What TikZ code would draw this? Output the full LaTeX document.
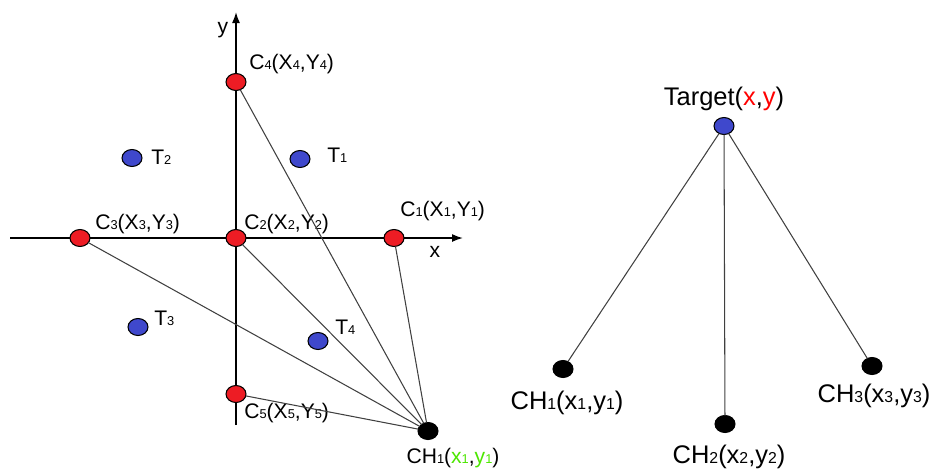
\documentclass[tikz,border=0pt]{standalone}
\usepackage{fontspec}
\setmainfont{Liberation Sans}
\usepackage{xcolor}
\definecolor{AnchorRed}{HTML}{ED1C24}
\definecolor{TargetBlue}{HTML}{3F48CC}
\definecolor{CoordGreen}{HTML}{4CE600}
\definecolor{CoordRed}{HTML}{FF0000}
\definecolor{LinkGray}{HTML}{404040}
\usepackage{tikz}
\usetikzlibrary{arrows.meta}
\usetikzlibrary{shapes.geometric}
\newcommand{\idx}[1]{{\fontsize{7.3}{8}\selectfont #1}}
\newcommand{\bigidx}[1]{{\fontsize{9}{10}\selectfont #1}}
\tikzset{
	dot/.style={ellipse,draw=black,line width=0.6pt,minimum width=0.4cm,minimum height=0.34cm,inner sep=0pt,outer sep=0pt},
	anchordot/.style={dot,fill=AnchorRed},
	targetdot/.style={dot,fill=TargetBlue},
	headdot/.style={dot,fill=black},
	lbl/.style={inner sep=0pt,font=\fontsize{12}{14}\selectfont},
	biglbl/.style={inner sep=0pt,font=\fontsize{14.5}{16}\selectfont},
	link/.style={LinkGray,line width=0.6pt},
	axis/.style={black,line width=0.9pt,-{Latex[length=2.2mm,width=1.6mm]}}
}

\begin{document}
\begin{tikzpicture}[x=0.02cm,y=-0.02cm]
		\useasboundingbox (0,0) rectangle (936,471);
		
		% axes
		\coordinate (xstart) at (10,238);
		\coordinate (xend) at (463,238);
		\coordinate (ystart) at (236,425);
		\coordinate (yend) at (236,12);
		\draw[axis] (xstart) -- (xend);
		\draw[axis] (ystart) -- (yend);
		\node[lbl] (ylbl) at (223,30) {y};
		\node[lbl] (xlbl) at (435,252) {x};
		
		% left: anchors, targets and cluster head
		\node[anchordot] (c1) at (394,238) {};
		\node[anchordot] (c2) at (236,238) {};
		\node[anchordot] (c3) at (80,238) {};
		\node[anchordot] (c4) at (236,82) {};
		\node[anchordot] (c5) at (236,394) {};
		\node[targetdot] (t1) at (300,159) {};
		\node[targetdot] (t2) at (132,158) {};
		\node[targetdot] (t3) at (138,327) {};
		\node[targetdot] (t4) at (318,341) {};
		\node[headdot] (ch) at (428,431) {};
		
		\node[lbl,anchor=west] (c1lbl) at (400,211) {C\idx{1}(X\idx{1},Y\idx{1})};
		\node[lbl,anchor=west] (c2lbl) at (244,224) {C\idx{2}(X\idx{2},Y\idx{2})};
		\node[lbl,anchor=west] (c3lbl) at (95,224) {C\idx{3}(X\idx{3},Y\idx{3})};
		\node[lbl,anchor=west] (c4lbl) at (249,64) {C\idx{4}(X\idx{4},Y\idx{4})};
		\node[lbl,anchor=west] (c5lbl) at (244,413) {C\idx{5}(X\idx{5},Y\idx{5})};
		\node[lbl,anchor=west] (t1lbl) at (327,155) {T\idx{1}};
		\node[lbl,anchor=west] (t2lbl) at (151,157) {T\idx{2}};
		\node[lbl,anchor=west] (t3lbl) at (154,318) {T\idx{3}};
		\node[lbl,anchor=west] (t4lbl) at (335,327) {T\idx{4}};
		\node[lbl] (chlbl) at (453,458) {CH\idx{1}(\textcolor{CoordGreen}{x\idx{1}},\textcolor{CoordGreen}{y\idx{1}})};
		
		\foreach \c in {c1,c2,c3,c4,c5}
			\draw[link] (ch) -- (\c);
		
		% right: target and cluster heads
		\node[targetdot] (tg) at (724,126) {};
		\node[headdot] (h1) at (563,369) {};
		\node[headdot] (h2) at (725,424) {};
		\node[headdot] (h3) at (872,366) {};
		
		\node[biglbl] (tglbl) at (724,99) {Target(\textcolor{CoordRed}{x},\textcolor{CoordRed}{y})};
		\node[biglbl] (h1lbl) at (567,403) {CH\bigidx{1}(x\bigidx{1},y\bigidx{1})};
		\node[biglbl] (h2lbl) at (729,457) {CH\bigidx{2}(x\bigidx{2},y\bigidx{2})};
		\node[biglbl] (h3lbl) at (874,396) {CH\bigidx{3}(x\bigidx{3},y\bigidx{3})};
		
		\foreach \h in {h1,h2,h3}
			\draw[link] (tg) -- (\h);
		
	\end{tikzpicture}
\end{document}
